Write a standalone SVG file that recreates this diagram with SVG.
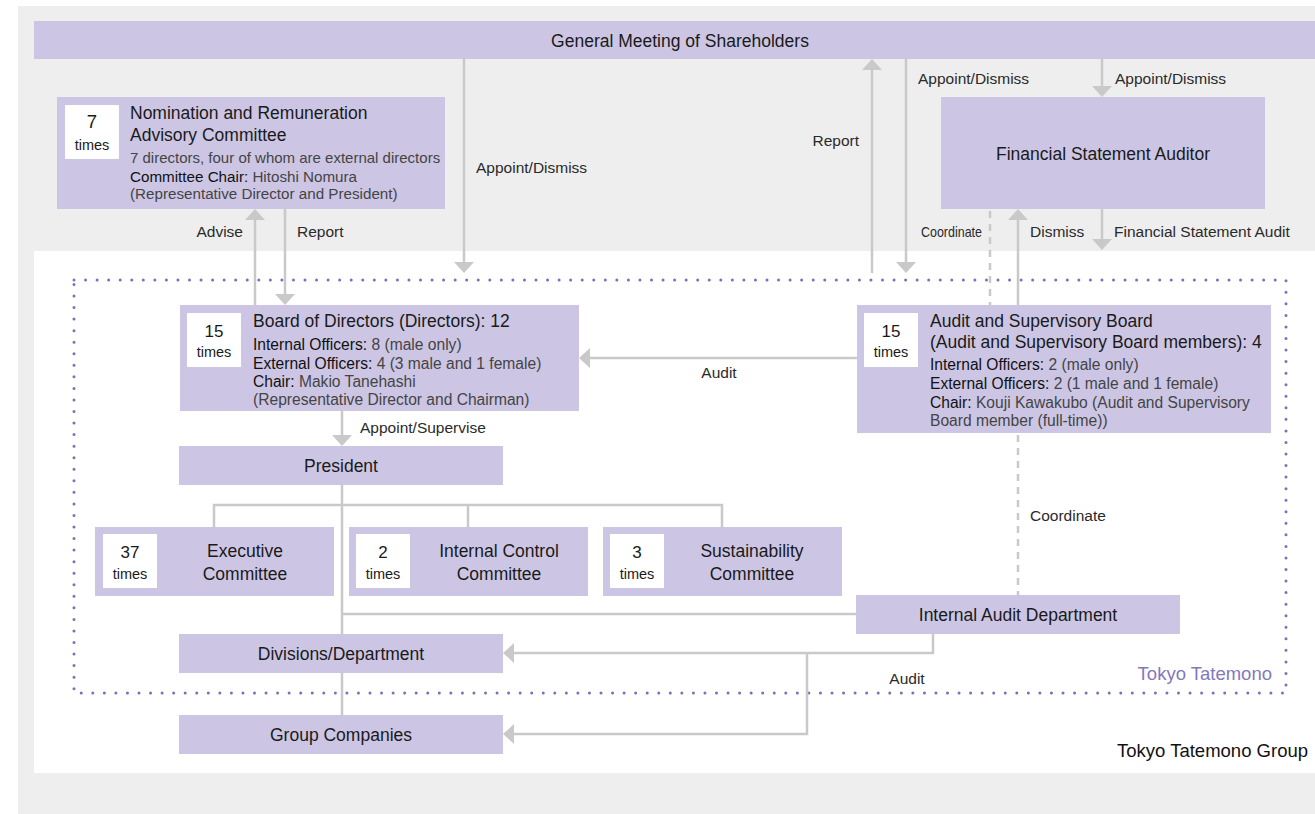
<svg xmlns="http://www.w3.org/2000/svg" width="1315" height="814" viewBox="0 0 1315 814">
<style>
text{font-family:"Liberation Sans",Arial,Helvetica,sans-serif;fill:#1a1a1a}
.box{fill:#ccc6e4}
.wb{fill:#ffffff}
.t{font-size:17.5px}
.b{font-size:15.6px;fill:#444444}
.k{fill:#111111}
.l{font-size:15.5px;fill:#2a2a2a}
.n{font-size:17px;text-anchor:middle}
.tm{font-size:14.5px;text-anchor:middle}
.m{text-anchor:middle}
.e{text-anchor:end}
.c{stroke:#c9c9c9;stroke-width:2.5;fill:none}
.a{stroke:#c9c9c9;stroke-width:2.5;fill:none;marker-end:url(#ah)}
.d{stroke:#c9c9c9;stroke-width:2.5;fill:none;stroke-dasharray:7 6}
.dot{stroke:#7b70b8;stroke-width:3;fill:none;stroke-linecap:round;stroke-dasharray:0 11.55}
</style>
<defs>
<marker id="ah" markerUnits="userSpaceOnUse" markerWidth="11" markerHeight="20" viewBox="0 0 11 20" refX="0" refY="10" orient="auto">
<path d="M0,0 L11,10 L0,20 Z" fill="#c9c9c9"/>
</marker>
</defs>

<rect x="18" y="6" width="1297" height="808" fill="#eeeeee"/>
<rect x="34" y="251" width="1281" height="522" fill="#ffffff"/>

<g id="tokyo-tatemono-frame">
<rect x="74" y="280" width="1212" height="413" class="dot"/>
<text x="1272" y="680" class="e" style="font-size:18.5px;fill:#8378bd">Tokyo Tatemono</text>
</g>
<text x="1308" y="757" class="e" style="font-size:18.5px;fill:#111">Tokyo Tatemono Group</text>

<g id="connectors">
<line x1="255" y1="305" x2="255" y2="220" class="a"/>
<line x1="285" y1="209" x2="285" y2="294" class="a"/>
<line x1="464" y1="59" x2="464" y2="262" class="a"/>
<line x1="872" y1="273" x2="872" y2="70" class="a"/>
<line x1="906" y1="59" x2="906" y2="262" class="a"/>
<line x1="1102" y1="59" x2="1102" y2="86" class="a"/>
<line x1="1102" y1="209" x2="1102" y2="239" class="a"/>
<line x1="1018" y1="305" x2="1018" y2="220" class="a"/>
<line x1="990" y1="211" x2="990" y2="305" class="d"/>
<line x1="1018" y1="435" x2="1018" y2="595" class="d"/>
<line x1="857" y1="358" x2="590" y2="358" class="a"/>
<line x1="342" y1="411" x2="342" y2="435" class="a"/>
<line x1="342" y1="485" x2="342" y2="634" class="c"/>
<polyline points="214,527 214,505 722,505 722,527" class="c"/>
<line x1="468" y1="505" x2="468" y2="527" class="c"/>
<line x1="342" y1="614" x2="856" y2="614" class="c"/>
<line x1="342" y1="673" x2="342" y2="715" class="c"/>
<polyline points="933,634 933,653 514,653" class="a"/>
<polyline points="807,653 807,734 514,734" class="a"/>

<text x="243" y="237" class="l e">Advise</text>
<text x="297" y="237" class="l">Report</text>
<text x="476" y="173" class="l">Appoint/Dismiss</text>
<text x="859" y="146" class="l e">Report</text>
<text x="918" y="84" class="l">Appoint/Dismiss</text>
<text x="1115" y="84" class="l">Appoint/Dismiss</text>
<text x="921" y="237" class="l" style="font-size:15px" textLength="61" lengthAdjust="spacingAndGlyphs">Coordinate</text>
<text x="1030" y="237" class="l">Dismiss</text>
<text x="1114" y="237" class="l">Financial Statement Audit</text>
<text x="360" y="433" class="l">Appoint/Supervise</text>
<text x="719" y="378" class="l m">Audit</text>
<text x="1030" y="521" class="l">Coordinate</text>
<text x="907" y="684" class="l m">Audit</text>
</g>

<g id="gms">
<rect x="34" y="21" width="1281" height="38" class="box"/>
<text x="680" y="47" class="t m">General Meeting of Shareholders</text>
</g>

<g id="nrc">
<rect x="57" y="97" width="388" height="112" class="box"/>
<rect x="65" y="105" width="54" height="54" class="wb"/>
<text x="92" y="128" class="n" style="font-size:18.5px">7</text>
<text x="92" y="150" class="tm">times</text>
<text x="130" y="119" class="t">Nomination and Remuneration</text>
<text x="130" y="141" class="t">Advisory Committee</text>
<text x="130" y="163" class="b" style="font-size:15px">7 directors, four of whom are external directors</text>
<text x="130" y="182" class="b" style="font-size:15.2px"><tspan class="k">Committee Chair:</tspan> Hitoshi Nomura</text>
<text x="130" y="199" class="b" style="font-size:15.2px">(Representative Director and President)</text>
</g>

<g id="fsa">
<rect x="941" y="97" width="324" height="112" class="box"/>
<text x="1103" y="160" class="t m">Financial Statement Auditor</text>
</g>

<g id="bod">
<rect x="180" y="305" width="399" height="106" class="box"/>
<rect x="187" y="313" width="54" height="54" class="wb"/>
<text x="214" y="337" class="n">15</text>
<text x="214" y="357" class="tm">times</text>
<text x="253" y="327" class="t">Board of Directors (Directors): 12</text>
<text x="253" y="350" class="b"><tspan class="k">Internal Officers:</tspan> 8 (male only)</text>
<text x="253" y="369" class="b"><tspan class="k">External Officers:</tspan> 4 (3 male and 1 female)</text>
<text x="253" y="387" class="b"><tspan class="k">Chair:</tspan> Makio Tanehashi</text>
<text x="253" y="405" class="b">(Representative Director and Chairman)</text>
</g>

<g id="asb">
<rect x="857" y="305" width="414" height="128" class="box"/>
<rect x="864" y="313" width="54" height="54" class="wb"/>
<text x="891" y="337" class="n">15</text>
<text x="891" y="357" class="tm">times</text>
<text x="930" y="327" class="t">Audit and Supervisory Board</text>
<text x="930" y="348" class="t">(Audit and Supervisory Board members): 4</text>
<text x="930" y="370" class="b"><tspan class="k">Internal Officers:</tspan> 2 (male only)</text>
<text x="930" y="389" class="b"><tspan class="k">External Officers:</tspan> 2 (1 male and 1 female)</text>
<text x="930" y="408" class="b"><tspan class="k">Chair:</tspan> Kouji Kawakubo (Audit and Supervisory</text>
<text x="930" y="426" class="b">Board member (full-time))</text>
</g>

<g id="president">
<rect x="179" y="446" width="324" height="39" class="box"/>
<text x="341" y="472" class="t m">President</text>
</g>

<g id="exec">
<rect x="95" y="527" width="239" height="69" class="box"/>
<rect x="103" y="534" width="54" height="54" class="wb"/>
<text x="130" y="558" class="n">37</text>
<text x="130" y="579" class="tm">times</text>
<text x="245" y="557" class="t m">Executive</text>
<text x="245" y="580" class="t m">Committee</text>
</g>

<g id="icc">
<rect x="349" y="527" width="239" height="69" class="box"/>
<rect x="356" y="534" width="54" height="54" class="wb"/>
<text x="383" y="558" class="n">2</text>
<text x="383" y="579" class="tm">times</text>
<text x="499" y="557" class="t m">Internal Control</text>
<text x="499" y="580" class="t m">Committee</text>
</g>

<g id="sus">
<rect x="603" y="527" width="239" height="69" class="box"/>
<rect x="610" y="534" width="54" height="54" class="wb"/>
<text x="637" y="558" class="n">3</text>
<text x="637" y="579" class="tm">times</text>
<text x="752" y="557" class="t m">Sustainability</text>
<text x="752" y="580" class="t m">Committee</text>
</g>

<g id="iad">
<rect x="856" y="595" width="324" height="39" class="box"/>
<text x="1018" y="621" class="t m">Internal Audit Department</text>
</g>

<g id="divisions">
<rect x="179" y="634" width="324" height="39" class="box"/>
<text x="341" y="660" class="t m">Divisions/Department</text>
</g>

<g id="group">
<rect x="179" y="715" width="324" height="39" class="box"/>
<text x="341" y="741" class="t m">Group Companies</text>
</g>
</svg>
